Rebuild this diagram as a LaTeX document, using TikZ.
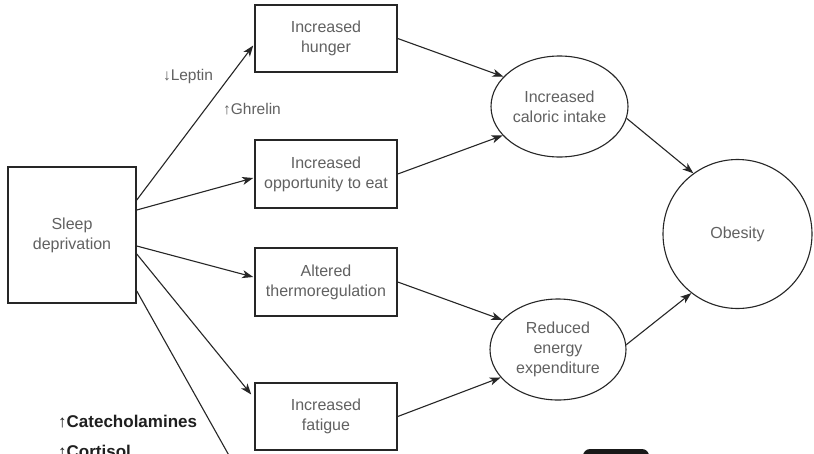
\documentclass[tikz,border=0pt]{standalone}
\usepackage{fontspec}
\setmainfont{Liberation Sans}
\usetikzlibrary{arrows.meta,calc,shapes.geometric}
\begin{document}
\begin{tikzpicture}[x=1pt,y=-1pt,
  box/.style={draw=black!85, line width=1.5pt, minimum width=142pt, minimum height=67pt,
    inner sep=0pt, align=center, font=\fontsize{16}{20}\selectfont, text=black!62},
  oval/.style={ellipse, draw=black!85, line width=1.1pt, minimum width=137pt, minimum height=101pt,
    inner sep=0pt, align=center, font=\fontsize{16}{20}\selectfont, text=black!62},
  conn/.style={draw=black!85, line width=1.1pt, -{Stealth[length=11pt,width=8pt,inset=3pt]}},
  plainline/.style={draw=black!85, line width=1.1pt},
  hormone/.style={font=\fontsize{15.5}{19}\selectfont, text=black!62, inner sep=0pt},
  boldlabel/.style={font=\fontsize{17}{20}\selectfont\bfseries, text=black!88, inner sep=0pt, anchor=base west}
]
\useasboundingbox (0,0) rectangle (814,453);
\fill[white] (0,0) rectangle (814,453);
\begin{scope}
\clip (0,0) rectangle (814,453);

\node[box, minimum width=128pt, minimum height=136pt] (sleep) at (72,235) {Sleep\\deprivation};
\node[box] (hunger) at (326,38.5) {Increased\\hunger};
\node[box, minimum height=68pt] (opp) at (326,174) {Increased\\opportunity to eat};
\node[box, minimum height=68pt] (thermo) at (326,282) {Altered\\thermoregulation};
\node[box] (fatigue) at (326,416.5) {Increased\\fatigue};

\node[oval] (caloric) at (559.5,106.5) {Increased\\caloric intake};
\node[oval, minimum width=136pt] (reduced) at (558,349.5) {Reduced\\energy\\expenditure};
\node[circle, draw=black!85, line width=1.1pt, minimum size=149pt, inner sep=0pt,
  font=\fontsize{16}{20}\selectfont, text=black!62] (obesity) at (737.5,234) {Obesity};

\node[hormone] (leptin) at (188,76) {↓Leptin};
\node[hormone] (ghrelin) at (252,109) {↑Ghrelin};
\node[boldlabel] (cat) at (58,427) {↑Catecholamines};
\node[boldlabel] (cort) at (58,457) {↑Cortisol};

\coordinate (offscreen) at (254,500);
\fill[black!90, rounded corners=7pt] (583,449) rectangle (649,480);

\draw[conn] ($(sleep.east)+(0,-35)$) -- ($(hunger.west)+(-1,7)$);
\draw[conn] ($(sleep.east)+(0,-25)$) -- ($(opp.west)+(-1,4)$);
\draw[conn] ($(sleep.east)+(0,11)$) -- ($(thermo.west)+(-1,-5)$);
\draw[conn] ($(sleep.east)+(0,19)$) -- ($(fatigue.west)+(-3,-22)$);
\draw[plainline] ($(sleep.east)+(0,56)$) -- (offscreen);

\draw[conn] (hunger.east) -- (caloric.152);
\draw[conn] (opp.east) -- (caloric.207);
\draw[conn] (thermo.east) -- (reduced.152);
\draw[conn] (fatigue.east) -- (reduced.206);
\draw[conn] (caloric.-10) -- (obesity.126);
\draw[conn] (reduced.4) -- (obesity.232);
\end{scope}
\end{tikzpicture}
\end{document}
